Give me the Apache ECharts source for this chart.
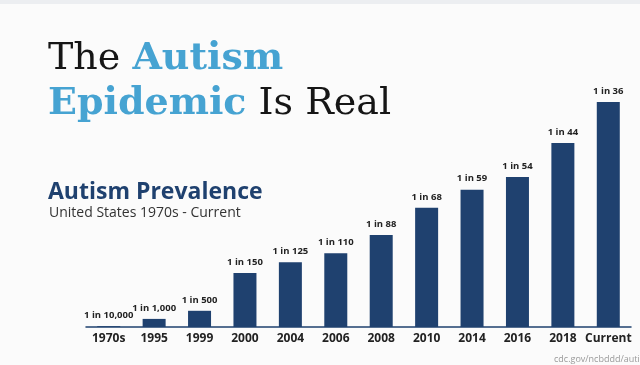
<!DOCTYPE html>
<html>
<head>
<meta charset="utf-8">
<script src="https://cdn.jsdelivr.net/npm/echarts@6/dist/echarts.min.js"></script>
<style>
html,body{margin:0;padding:0;background:#fbfbfb;}
#main{width:640px;height:365px;}
</style>
</head>
<body>
<div id="main"></div>
<script>
var categories = ['1970s','1995','1999','2000','2004','2006','2008','2010','2014','2016','2018','Current'];
// prevalence per 1,000 children (1 in N)
var prevalencePer1000 = [0.1, 1.0, 2.0, 6.67, 8.0, 9.09, 11.36, 14.71, 16.95, 18.52, 22.73, 27.78];
var barLabels = ['1 in 10,000','1 in 1,000','1 in 500','1 in 150','1 in 125','1 in 110','1 in 88','1 in 68','1 in 59','1 in 54','1 in 44','1 in 36'];

var chart = echarts.init(document.getElementById('main'), null, {renderer:'canvas'});
chart.setOption({
  backgroundColor: '#fbfbfb',
  animation: false,
  title: [
    {
      left: 43, top: 32,
      text: '{a|The }{b|Autism}\n{b|Epidemic}{a| Is Real}',
      textStyle: {
        rich: {
          a: {fontFamily: 'DejaVu Serif', fontSize: 38, fontWeight: 'normal', color: '#161616', lineHeight: 45},
          b: {fontFamily: 'DejaVu Serif', fontSize: 38, fontWeight: 'bold', color: '#46a3d2', lineHeight: 45}
        }
      }
    },
    {
      left: 43, top: 176,
      text: 'Autism Prevalence',
      textStyle: {fontFamily: 'Open Sans', fontSize: 23, fontWeight: 'bold', color: '#1f416f'}
    },
    {
      left: 44, top: 201,
      text: 'United States 1970s - Current',
      textStyle: {fontFamily: 'Open Sans', fontSize: 14, fontWeight: 'normal', color: '#333333'}
    },
    {
      left: 549, top: 350,
      text: 'cdc.gov/ncbddd/autism',
      textStyle: {fontFamily: 'Open Sans', fontSize: 9, fontWeight: 'normal', color: '#9a9a9a'}
    }
  ],
  graphic: [
    {type: 'rect', left: 0, top: 0, shape: {width: 640, height: 4}, style: {fill: '#eceef1'}}
  ],
  grid: {left: 86, right: 9, top: 84, bottom: 38},
  xAxis: {
    type: 'category',
    data: categories,
    axisLine: {show: true, lineStyle: {color: '#1f416f', width: 1.5}},
    axisTick: {show: false},
    axisLabel: {fontFamily: 'Open Sans', fontSize: 12, fontWeight: 'bold', color: '#222222', margin: 6, interval: 0}
  },
  yAxis: {
    type: 'value', min: 0, max: 30, show: false,
    splitLine: {show: false}
  },
  series: [{
    type: 'bar',
    data: prevalencePer1000,
    barWidth: 23,
    itemStyle: {color: '#1f416f'},
    label: {
      show: true, position: 'top', distance: 6,
      fontFamily: 'Open Sans', fontSize: 9.5, fontWeight: 'bold', color: '#222222',
      formatter: function (p) { return barLabels[p.dataIndex]; }
    }
  }]
});
</script>
</body>
</html>
